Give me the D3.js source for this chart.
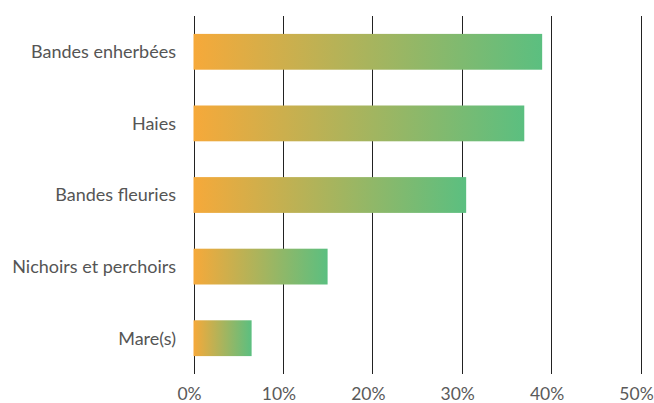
<!DOCTYPE html>
<html>
<head>
<meta charset="utf-8">
<script src="https://cdn.jsdelivr.net/npm/d3@7"></script>
<style>
  html, body { margin: 0; padding: 0; background: #fff; }
  svg { display: block; }
  text { font-family: Lato, "Open Sans", sans-serif; }
</style>
</head>
<body>
<svg id="chart" width="654" height="403"></svg>
<script>
// Aménagements cités (part des répondants, en %)
const categories = ["Bandes enherbées", "Haies", "Bandes fleuries", "Nichoirs et perchoirs", "Mare(s)"];
const values = [39, 37, 30.5, 15, 6.5];
const tickValues = [0, 10, 20, 30, 40, 50];

const svg = d3.select("#chart");
const margin = { top: 16, right: 14, bottom: 29, left: 193.5 };
const width = 654, height = 403;

const x = d3.scaleLinear()
  .domain([0, 50])
  .range([margin.left, 640.5]);

const y = d3.scaleBand()
  .domain(categories)
  .range([margin.top, height - margin.bottom])
  .paddingInner(0.5)
  .paddingOuter(0.25);

// Dégradé orange → vert appliqué à chaque barre
const defs = svg.append("defs");
const grad = defs.append("linearGradient")
  .attr("id", "barGradient")
  .attr("x1", "0%").attr("x2", "100%")
  .attr("y1", "0%").attr("y2", "0%");
grad.append("stop").attr("offset", "0%").attr("stop-color", "#F6A93A");
grad.append("stop").attr("offset", "100%").attr("stop-color", "#5BBF80");

// Lignes verticales de la grille
svg.append("g")
  .selectAll("line")
  .data(tickValues)
  .join("line")
  .attr("x1", d => Math.round(x(d)) + 0.5)
  .attr("x2", d => Math.round(x(d)) + 0.5)
  .attr("y1", margin.top)
  .attr("y2", height - margin.bottom)
  .attr("stroke", "#222")
  .attr("stroke-width", 1);

// Barres
svg.append("g")
  .selectAll("rect")
  .data(values)
  .join("rect")
  .attr("x", x(0))
  .attr("y", (d, i) => y(categories[i]))
  .attr("width", d => x(d) - x(0))
  .attr("height", y.bandwidth())
  .attr("fill", "url(#barGradient)");

// Libellés des catégories
svg.append("g")
  .selectAll("text")
  .data(categories)
  .join("text")
  .attr("x", 176)
  .attr("y", d => y(d) + y.bandwidth() / 2)
  .attr("dy", "0.35em")
  .attr("text-anchor", "end")
  .attr("font-size", 18)
  .attr("fill", "#555")
  .text(d => d);

// Graduations de l'axe horizontal
svg.append("g")
  .selectAll("text")
  .data(tickValues)
  .join("text")
  .attr("x", d => x(d))
  .attr("dx", -4)
  .attr("y", 400)
  .attr("text-anchor", "middle")
  .attr("font-size", 17.5)
  .attr("fill", "#5a5a5a")
  .text(d => d + "%");
</script>
</body>
</html>
